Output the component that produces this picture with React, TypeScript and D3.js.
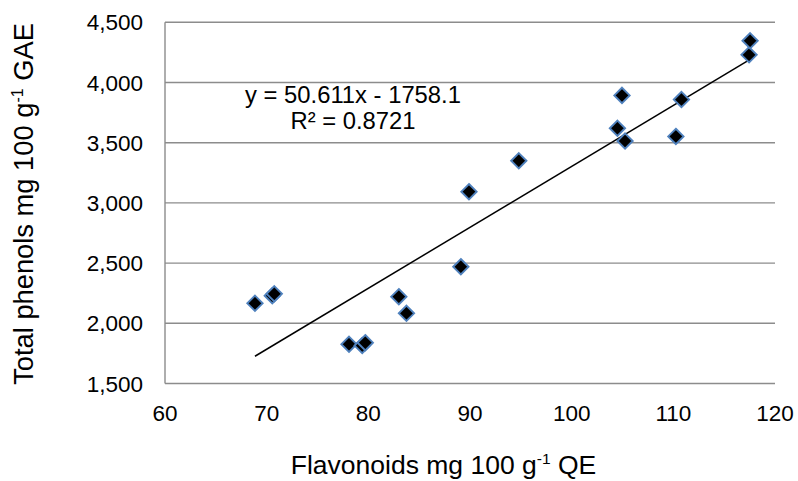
import React from "react";
import * as d3 from "d3";

const flavonoids = [68.85, 70.55, 70.75, 78.1, 79.4, 79.7, 83.0, 83.75, 89.1, 89.9, 94.8, 104.95, 104.5, 105.25, 110.25, 110.8, 117.45, 117.55];
const phenols = [2166, 2229, 2245, 1826, 1815, 1839, 2221, 2083, 2470, 3093, 3350, 3893, 3620, 3514, 3552, 3858, 4230, 4347];
const xTicks = [60, 70, 80, 90, 100, 110, 120];
const yTicks = [1500, 2000, 2500, 3000, 3500, 4000, 4500];
const slope = 50.611;
const intercept = -1758.1;
const equationText = "y = 50.611x - 1758.1";
const r2Text = "R² = 0.8721";

const W = 798;
const H = 481;
const FONT = "'Liberation Sans', Arial, sans-serif";

export default function App() {
  const x = d3.scaleLinear().domain([60, 120]).range([165, 775]);
  const y = d3.scaleLinear().domain([1500, 4500]).range([383.5, 22.3]);
  const fmt = d3.format(",");
  const xmin = d3.min(flavonoids) as number;
  const xmax = d3.max(flavonoids) as number;
  const line = d3.line<number>().x((v) => x(v)).y((v) => y(slope * v + intercept));
  const diamond = d3.symbol().type(d3.symbolDiamond2).size(150)() as string;
  return (
    <svg width={W} height={H} style={{ position: "absolute", left: 0, top: 0, background: "#fff" }} fontFamily={FONT}>
      {yTicks.map((t) => (
        <line key={"g" + t} x1={x(60)} x2={x(120)} y1={y(t)} y2={y(t)} stroke="#8c8c8c" strokeWidth={1.4} />
      ))}
      <line x1={x(60)} x2={x(60)} y1={y(4500)} y2={y(1500)} stroke="#8c8c8c" strokeWidth={1.4} />
      {yTicks.map((t) => (
        <text key={"yl" + t} x={143} y={y(t)} dy="0.36em" textAnchor="end" fontSize={22.5} fill="#000">
          {fmt(t)}
        </text>
      ))}
      {xTicks.map((t) => (
        <text key={"xl" + t} x={x(t)} y={421} textAnchor="middle" fontSize={22.5} fill="#000">
          {t}
        </text>
      ))}
      <path d={line([xmin, xmax]) as string} stroke="#000" strokeWidth={1.5} fill="none" />
      {flavonoids.map((f, i) => (
        <path
          key={"p" + i}
          d={diamond}
          transform={`translate(${x(f)},${y(phenols[i])})`}
          fill="#000"
          stroke="#4f81bd"
          strokeWidth={1.9}
        />
      ))}
      <text x={353} y={103} textAnchor="middle" fontSize={23.8} fill="#000">{equationText}</text>
      <text x={353} y={129} textAnchor="middle" fontSize={23.8} fill="#000">{r2Text}</text>
      <text x={443.5} y={474} textAnchor="middle" fontSize={26.5} fill="#000">
        Flavonoids mg 100 g<tspan fontSize={15.5} dy={-10}>-1</tspan><tspan dy={10}> QE</tspan>
      </text>
      <text transform="translate(33,204) rotate(-90)" textAnchor="middle" fontSize={27.3} fill="#000">
        Total phenols mg 100 g<tspan fontSize={16} dy={-10}>-1</tspan><tspan dy={10}> GAE</tspan>
      </text>
    </svg>
  );
}
